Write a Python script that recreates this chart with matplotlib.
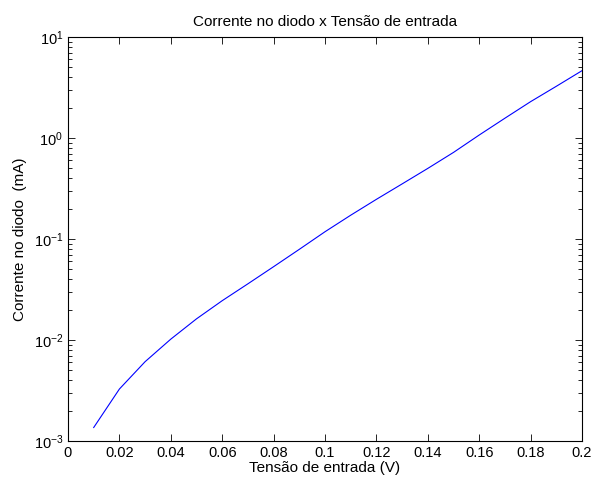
import numpy as np
import matplotlib
matplotlib.use("Agg")
import matplotlib.pyplot as plt
from matplotlib.ticker import LogLocator, FixedLocator, NullFormatter

# ---- data ----
tensao = [0.01, 0.02, 0.03, 0.04, 0.05, 0.06, 0.07, 0.08, 0.09, 0.10,
          0.11, 0.12, 0.13, 0.14, 0.15, 0.16, 0.17, 0.18, 0.19, 0.20]
corrente = [0.00136, 0.00327, 0.0061, 0.0102, 0.0162, 0.0245, 0.036, 0.0532, 0.079, 0.118,
            0.172, 0.247, 0.351, 0.50, 0.72, 1.07, 1.57, 2.29, 3.25, 4.64]
xticks = [0, 0.02, 0.04, 0.06, 0.08, 0.1, 0.12, 0.14, 0.16, 0.18, 0.2]
xtick_labels = ['0', '0.02', '0.04', '0.06', '0.08', '0.1', '0.12', '0.14', '0.16', '0.18', '0.2']

plt.rcParams['font.family'] = ['Liberation Sans', 'DejaVu Sans']
plt.rcParams['mathtext.fontset'] = 'custom'
plt.rcParams['mathtext.rm'] = 'Liberation Sans'
plt.rcParams['mathtext.it'] = 'Liberation Sans:italic'
plt.rcParams['font.size'] = 10

fig = plt.figure(figsize=(5.93, 4.80), dpi=100)
ax = fig.add_axes([68 / 593, 1 - 441 / 480, 514 / 593, 404 / 480])

ax.plot(tensao, corrente, color='blue', linewidth=0.8)
ax.set_yscale('log')
ax.set_xlim(0, 0.2)
ax.set_ylim(1e-3, 1e1)

ax.xaxis.set_major_locator(FixedLocator(xticks))
ax.set_xticklabels(xtick_labels)
ax.yaxis.set_major_locator(LogLocator(base=10, numticks=10))
ax.yaxis.set_minor_locator(LogLocator(base=10, subs=np.arange(2, 10), numticks=20))
ax.yaxis.set_minor_formatter(NullFormatter())

ax.tick_params(which='both', direction='in', top=True, right=True, width=0.6)
ax.tick_params(which='major', length=5, labelsize=10.5)
ax.tick_params(which='minor', length=3)
for s in ax.spines.values():
    s.set_linewidth(0.8)

ax.set_title('Corrente no diodo x Tensão de entrada', fontsize=11, pad=8)
ax.set_xlabel('Tensão de entrada (V)', fontsize=11, labelpad=1)
ax.set_ylabel('Corrente no diodo  (mA)', fontsize=11, labelpad=5)

fig.savefig('out.png', dpi=100)
